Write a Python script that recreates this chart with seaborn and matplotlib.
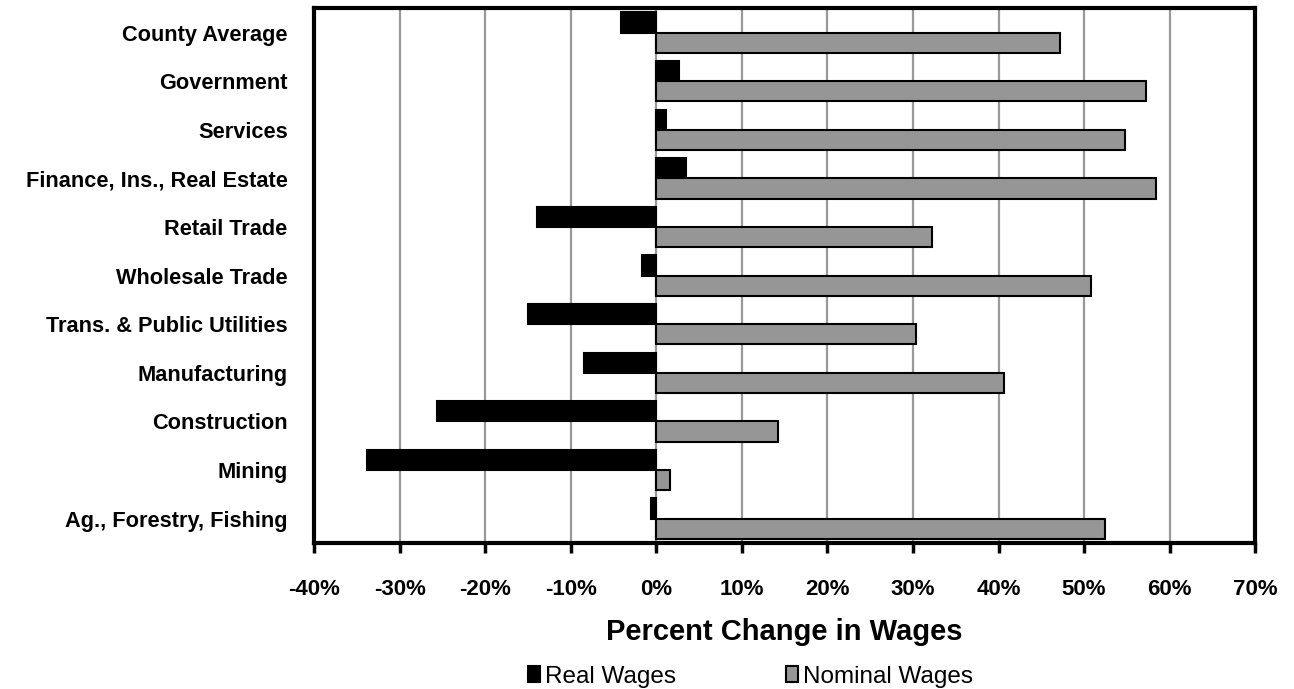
import pandas as pd
import matplotlib.pyplot as plt
import seaborn as sns
from matplotlib.ticker import FuncFormatter

# Data (percent change)
industries = ['County Average', 'Government', 'Services', 'Finance, Ins., Real Estate',
              'Retail Trade', 'Wholesale Trade', 'Trans. & Public Utilities',
              'Manufacturing', 'Construction', 'Mining', 'Ag., Forestry, Fishing']
real_wages = [-4.1, 2.7, 1.1, 3.5, -14.0, -1.7, -15.0, -8.4, -25.6, -33.8, -0.6]
nominal_wages = [47.2, 57.2, 54.8, 58.4, 32.2, 50.8, 30.4, 40.7, 14.2, 1.6, 52.5]
series_names = ['Real Wages', 'Nominal Wages']
x_ticks = [-40, -30, -20, -10, 0, 10, 20, 30, 40, 50, 60, 70]

df = pd.DataFrame({
    'industry': industries * 2,
    'change': real_wages + nominal_wages,
    'series': [series_names[0]] * len(industries) + [series_names[1]] * len(industries),
})

sns.set_style('white')
plt.rcParams['font.family'] = ['Liberation Sans', 'DejaVu Sans']
plt.rcParams.update({'text.color': 'black', 'axes.labelcolor': 'black',
                     'xtick.color': 'black', 'ytick.color': 'black'})

fig = plt.figure(figsize=(12.94, 6.89), dpi=100)
ax = fig.add_axes([0.2427, 0.212, 0.7273, 0.776])

sns.barplot(data=df, x='change', y='industry', hue='series', order=industries,
            hue_order=series_names, palette=['#000000', '#969696'],
            width=0.83, edgecolor='black', linewidth=1.5, ax=ax, legend=True)

ax.set_xlim(-40, 70)
ax.set_xticks(x_ticks)
ax.xaxis.set_major_formatter(FuncFormatter(lambda v, p: f'{v:.0f}%'))
ax.grid(axis='x', color='#999999', linewidth=1.6)
ax.grid(axis='y', visible=False)
ax.set_axisbelow(True)

for s in ax.spines.values():
    s.set_linewidth(3)
    s.set_color('black')

ax.tick_params(axis='x', which='major', direction='out', length=7, width=2.5,
               bottom=True, pad=19, labelsize=16)
ax.tick_params(axis='y', length=0, pad=19, labelsize=15.7)
for lab in ax.get_xticklabels() + ax.get_yticklabels():
    lab.set_fontweight('bold')

ax.set_ylabel('')
ax.set_xlabel('Percent Change in Wages', fontsize=21, fontweight='bold', labelpad=13)

ax.legend(loc='center', bbox_to_anchor=(0.58, 0.018), bbox_transform=fig.transFigure,
          ncol=2, frameon=False, fontsize=17.5, handlelength=0.5, handleheight=0.6,
          handletextpad=0.2, columnspacing=4.5, borderaxespad=0)

fig.savefig('out.png', dpi=100)
